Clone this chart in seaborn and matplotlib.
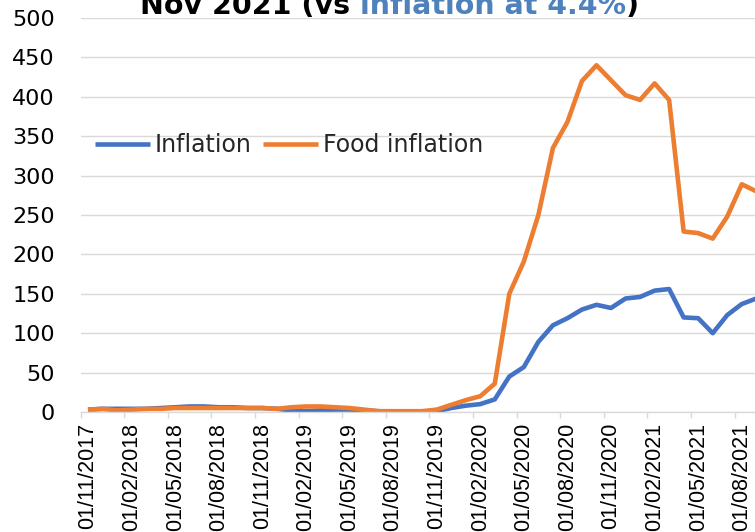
import numpy as np
import pandas as pd
import matplotlib
matplotlib.use("Agg")
import matplotlib.pyplot as plt
import seaborn as sns

# Monthly observations, Nov 2017 .. Sep 2021
months = pd.date_range("2017-11-01", "2021-09-01", freq="MS")
inflation = [3, 4, 4, 4, 4, 5, 6, 7, 7, 6, 6, 5, 5, 4, 2, 1, 2, 3, 3, 2,
             1, 0, 0, 0, 1, 5, 8, 10, 16, 45, 57, 89, 110, 119, 130, 136,
             132, 144, 146, 154, 156, 120, 119, 100, 123, 137, 144]
food_inflation = [3, 4, 2, 3, 4, 4, 5, 5, 5, 5, 5, 5, 5, 4, 6, 7, 7, 6, 5, 3,
                  1, 1, 1, 1, 3, 9, 15, 20, 36, 150, 191, 250, 335, 368, 420,
                  440, 421, 402, 396, 417, 396, 229, 227, 220, 248, 289, 280]
series_names = ["Inflation", "Food inflation"]
series_colors = ["#4472C4", "#ED7D31"]
tick_labels = [d.strftime("%d/%m/%Y") for d in months[::3]]
y_ticks = list(range(0, 501, 50))

sns.set_theme(style="white")
plt.rcParams["font.family"] = ["DejaVu Sans"]

df = pd.DataFrame({"pos": np.arange(len(months)),
                   "Inflation": inflation,
                   "Food inflation": food_inflation})
long_df = df.melt(id_vars="pos", var_name="series", value_name="value")

fig = plt.figure(figsize=(7.55, 5.32), dpi=100)
ax = fig.add_axes([0.1069, 0.2256, 0.8931, 0.7406])

sns.lineplot(data=long_df, x="pos", y="value", hue="series",
             hue_order=series_names, palette=series_colors,
             linewidth=3.3, ax=ax, legend=False)
for ln in ax.lines:
    ln.set_solid_joinstyle("round")
    ln.set_solid_capstyle("butt")

ax.set_xlim(-0.5, 45.91)
ax.set_ylim(0, 500)
ax.set_xlabel("")
ax.set_ylabel("")

# y axis: gridlines only
ax.set_yticks(y_ticks)
ax.set_yticklabels([str(v) for v in y_ticks], fontsize=16, color="#000000")
ax.tick_params(axis="y", length=0, pad=18.5)
ax.yaxis.grid(True, color="#d9d9d9", linewidth=1)
ax.xaxis.grid(False)
ax.set_axisbelow(True)

# x axis: labels at category centres, tick marks between categories
ax.set_xticks(np.arange(0, len(months), 3))
ax.set_xticklabels(tick_labels, rotation=90, fontsize=15.5,
                   family="Liberation Sans", color="#000000")
ax.set_xticks(np.arange(0, len(months), 3) - 0.5, minor=True)
ax.tick_params(axis="x", which="major", length=0, pad=8)
ax.tick_params(axis="x", which="minor", length=4, width=1,
               color="#d9d9d9", direction="out", bottom=True)

for side in ["top", "right", "left"]:
    ax.spines[side].set_visible(False)
ax.spines["bottom"].set_color("#d9d9d9")
ax.spines["bottom"].set_linewidth(1)

ax.legend(handles=ax.lines[:2], labels=series_names, ncol=2,
          frameon=False, fontsize=17, loc="center left",
          bbox_to_anchor=(95 / 755, 1 - 145 / 532),
          bbox_transform=fig.transFigure, borderpad=0, borderaxespad=0,
          handlelength=2.33, handletextpad=0.2, columnspacing=0.5)

# headline, partly running off the top edge
title_size = 20.5
t1 = fig.text(140 / 755, (532 - 20) / 532, "Nov 2021 (vs ",
              fontsize=title_size, fontweight="bold", color="#000000",
              va="bottom")
t2 = fig.text(0, 0, "inflation at 4.4%", fontsize=title_size,
              fontweight="bold", color="#4F81BD", va="bottom")
fig.canvas.draw()
r = fig.canvas.get_renderer()
bb = t1.get_window_extent(r)
t2.set_position((bb.x1 / fig.bbox.width, t1.get_position()[1]))
bb2 = t2.get_window_extent(r)
fig.text(bb2.x1 / fig.bbox.width, t1.get_position()[1], ")",
         fontsize=title_size, fontweight="bold", color="#000000", va="bottom")

fig.savefig("out.png", dpi=100)
